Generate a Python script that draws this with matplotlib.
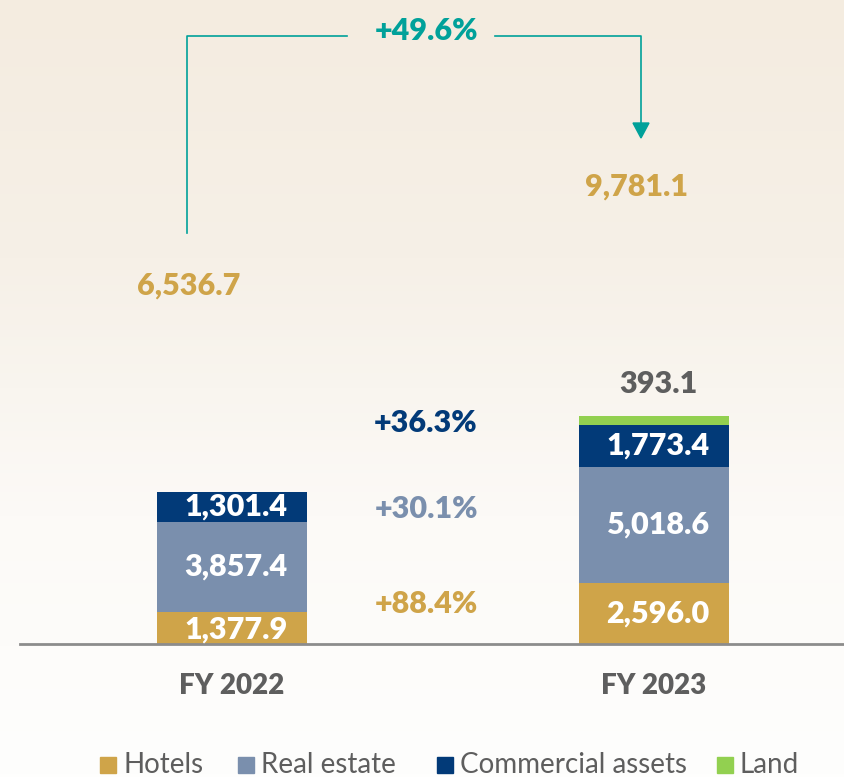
import matplotlib.pyplot as plt
import numpy as np
from matplotlib.colors import LinearSegmentedColormap

plt.rcParams['font.family'] = ['Lato', 'DejaVu Sans']

years = ['FY 2022', 'FY 2023']
hotels = [1377.9, 2596.0]
real_estate = [3857.4, 5018.6]
commercial = [1301.4, 1773.4]
land = [0.0, 393.1]
totals = ['6,536.7', '9,781.1']
growth = ['+88.4%', '+30.1%', '+36.3%']
total_growth = '+49.6%'

GOLD = '#CFA449'
GREY = '#7A8FAD'
NAVY = '#023A78'
GREEN = '#92D050'
TEAL = '#00A19A'
TXT = '#5E5E5E'

fig = plt.figure(figsize=(8.44, 7.77), dpi=100)

# background gradient (beige to white)
bg = fig.add_axes([0, 0, 1, 1])
grad = np.linspace(0, 1, 256).reshape(-1, 1)
cmap = LinearSegmentedColormap.from_list('bg', ['#F4ECE0', '#F6F0E7', '#FCFAF7', '#FEFEFD'])
bg.imshow(grad, aspect='auto', cmap=cmap, extent=[0, 1, 0, 1], origin='upper')
bg.axis('off')

H, W = 777, 844
base_px = 644
ax = fig.add_axes([0, (H - base_px) / H, 1, base_px / H])
ax.patch.set_alpha(0)
k = 9781.1 / 228  # value per pixel
ax.set_ylim(0, base_px * k)
x = np.arange(len(years))
ax.set_xlim(-232 / 422, 1 + (W - 654) / 422)
bw = 150 / 422

b1 = ax.bar(x, hotels, bw, color=GOLD)
b2 = ax.bar(x, real_estate, bw, bottom=hotels, color=GREY)
bot3 = np.add(hotels, real_estate)
b3 = ax.bar(x, commercial, bw, bottom=bot3, color=NAVY)
bot4 = bot3 + np.array(commercial)
b4 = ax.bar(x, land, bw, bottom=bot4, color=GREEN)

fs = 22
wt = 'heavy'
for i in range(len(years)):
    for bars, vals, bot in [(b1, hotels, np.zeros(2)), (b2, real_estate, np.array(hotels)), (b3, commercial, bot3)]:
        yc = bot[i] + vals[i] / 2
        if i == 0 and bars is b1:
            yc = bot[i] + vals[i] / 2 - 2 * k
        ax.text(x[i] + 0.01, yc, f'{vals[i]:,.1f}', ha='center', va='center',
                color='white', fontsize=fs, fontweight=wt)

ax.axis('off')
ax.plot([20 / W, 1], [0, 0], transform=ax.transAxes, color='#8C8C8C', lw=2, clip_on=False)

def fy(py):
    return 1 - py / H

# category labels
for i, yr in enumerate(years):
    fig.text([232, 654][i] / W, fy(686), yr, ha='center', va='center',
             color=TXT, fontsize=20, fontweight=wt)

# totals
fig.text(189 / W, fy(286), totals[0], ha='center', va='center', color=GOLD, fontsize=fs, fontweight=wt)
fig.text(637 / W, fy(187), totals[1], ha='center', va='center', color=GOLD, fontsize=fs, fontweight=wt)
fig.text(658 / W, fy(384), f'{land[1]:,.1f}', ha='center', va='center', color=TXT, fontsize=fs, fontweight=wt)

# growth labels
for g, c, py in zip(growth, [GOLD, GREY, NAVY], [604, 509, 423]):
    fig.text(426 / W, fy(py), g, ha='center', va='center', color=c, fontsize=fs, fontweight=wt)

fig.text(426 / W, fy(31), total_growth, ha='center', va='center', color=TEAL, fontsize=fs, fontweight=wt)

# bracket with arrow
fig.add_artist(plt.Line2D([187 / W, 187 / W, 347 / W], [fy(233), fy(36), fy(36)], color=TEAL, lw=1.2))
fig.add_artist(plt.Line2D([495 / W, 641 / W, 641 / W], [fy(36), fy(36), fy(124)], color=TEAL, lw=1.2))
fig.add_artist(plt.Polygon([[633 / W, fy(123)], [649 / W, fy(123)], [641 / W, fy(138)]],
                           closed=True, color=TEAL))

# legend
leg = [('Hotels', GOLD, 100), ('Real estate', GREY, 238), ('Commercial assets', NAVY, 437), ('Land', GREEN, 717)]
for name, c, px in leg:
    fig.add_artist(plt.Rectangle((px / W, fy(773)), 16 / W, 16 / H, color=c))
    fig.text((px + 23) / W, fy(765), name, ha='left', va='center', color=TXT, fontsize=20)

fig.savefig('out.png', dpi=100)
